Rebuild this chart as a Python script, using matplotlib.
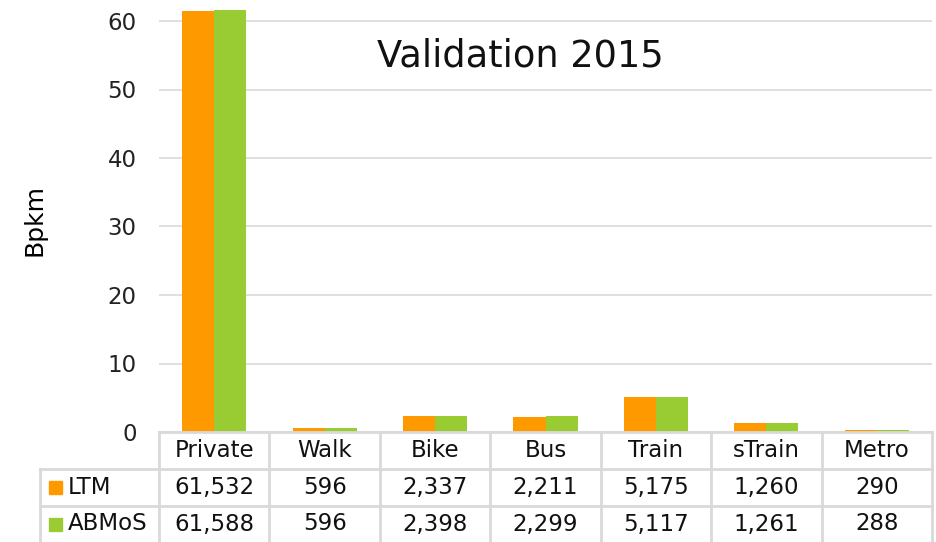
import matplotlib.pyplot as plt
from matplotlib.patches import Rectangle
import numpy as np

plt.rcParams['font.family'] = ['DejaVu Sans']

modes = ['Private', 'Walk', 'Bike', 'Bus', 'Train', 'sTrain', 'Metro']
ltm = [61532, 596, 2337, 2211, 5175, 1260, 290]
abmos = [61588, 596, 2398, 2299, 5117, 1261, 288]
series_names = ['LTM', 'ABMoS']
colors = ['#FF9900', '#99CC33']
grid_col = '#D9D9D9'
fs = 16.5

fig = plt.figure(figsize=(9.36, 5.42), dpi=100)
ax = fig.add_axes([159 / 936, 1 - 432 / 542, 773 / 936, 432 / 542])

x = np.arange(len(modes))
w = 0.29
ax.bar(x - w / 2, np.array(ltm) / 1000, w, color=colors[0], zorder=2)
ax.bar(x + w / 2, np.array(abmos) / 1000, w, color=colors[1], zorder=2)

ax.set_xlim(-0.5, len(modes) - 0.5)
ax.set_ylim(0, 432 / 6.85)
ax.set_yticks([0, 10, 20, 30, 40, 50, 60])
ax.yaxis.grid(True, color=grid_col, lw=1.2, zorder=0)
ax.set_xticks([])
for s in ax.spines.values():
    s.set_visible(False)
ax.tick_params(axis='y', length=0, labelsize=fs, pad=16, colors='#222222')
ax.set_ylabel('Bpkm', fontsize=18)
ax.yaxis.set_label_coords(-0.145, 0.49)

ax.text(0.468, 0.87, 'Validation 2015', transform=ax.transAxes,
        fontsize=26.5, ha='center', va='center', color='#111111')

# data table below the axis
rowh = 36.8 / 432
y0 = 0
y1 = -rowh
y2 = -2 * rowh
y3 = -3 * rowh
lab_left = (40 - 159) / 773
tr = ax.get_xaxis_transform()
lk = dict(color=grid_col, lw=2, clip_on=False, transform=ax.transAxes, zorder=3)
ax.plot([0, 1], [y0, y0], **lk)
ax.plot([lab_left, 1], [y1, y1], **lk)
ax.plot([lab_left, 1], [y2, y2], **lk)
ax.plot([lab_left, lab_left], [y1, y3], **lk)
for i in range(len(modes) + 1):
    xb = i / len(modes)
    ax.plot([xb, xb], [y0, y3], **lk)

for i, m in enumerate(modes):
    ax.text(i, (y0 + y1) / 2, m, transform=tr, ha='center', va='center',
            fontsize=fs, color='#111111')
    ax.text(i, (y1 + y2) / 2, f'{ltm[i]:,}', transform=tr, ha='center',
            va='center', fontsize=fs, color='#111111')
    ax.text(i, (y2 + y3) / 2, f'{abmos[i]:,}', transform=tr, ha='center',
            va='center', fontsize=fs, color='#111111')

sq_w = 13 / 773
sq_h = 13 / 432
for j, (name, c) in enumerate(zip(series_names, colors)):
    yc = (y1 + y2) / 2 - j * rowh
    ax.add_patch(Rectangle((lab_left + 9 / 773, yc - sq_h / 2), sq_w, sq_h,
                           transform=ax.transAxes, color=c, clip_on=False))
    ax.text(lab_left + 28 / 773, yc, name, transform=ax.transAxes,
            ha='left', va='center', fontsize=fs, color='#111111')

fig.savefig('out.png', dpi=100)
